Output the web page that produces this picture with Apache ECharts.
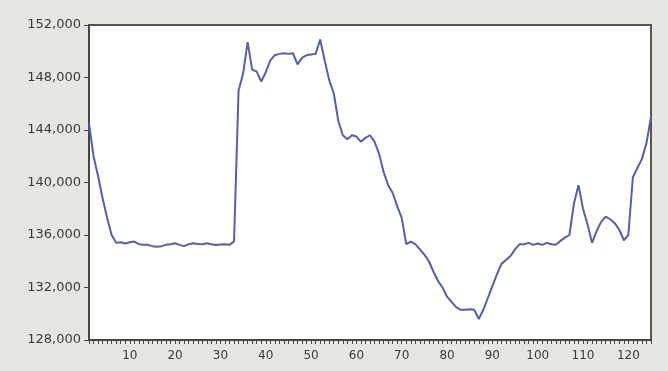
<!DOCTYPE html>
<html>
<head>
<meta charset="utf-8">
<script src="https://cdn.jsdelivr.net/npm/echarts@6/dist/echarts.min.js"></script>
<style>
  html, body { margin: 0; padding: 0; background: #e7e7e2; }
  #chart { width: 668px; height: 371px; }
</style>
</head>
<body>
<div id="chart"></div>
<script>
// observations 1..125
const obs = [];
for (let i = 1; i <= 125; i++) obs.push(i);

// values
const values = [
  144500, 142000, 140500, 138800, 137300, 136000, 135400, 135450, 135350, 135450,
  135500, 135300, 135250, 135250, 135150, 135100, 135150, 135250, 135300, 135370,
  135250, 135150, 135300, 135370, 135320, 135300, 135370, 135300, 135240, 135280,
  135300, 135250, 135500, 147000, 148300, 150700, 148600, 148450, 147700, 148400,
  149300, 149700, 149800, 149850, 149800, 149850, 149000, 149500, 149700, 149750,
  149800, 150900, 149300, 147800, 146800, 144700, 143600, 143300, 143600, 143500,
  143100, 143400, 143600, 143100, 142200, 140800, 139800, 139200, 138200, 137300,
  135300, 135500, 135300, 134900, 134500, 134000, 133200, 132500, 132000, 131300,
  130900, 130500, 130300, 130300, 130350, 130300, 129600, 130300, 131200, 132100,
  133000, 133800, 134100, 134400, 134900, 135300, 135300, 135400, 135250, 135350,
  135250, 135400, 135300, 135250, 135550, 135800, 136000, 138400, 139800, 138000,
  136800, 135400, 136300, 137000, 137400, 137200, 136900, 136400, 135600, 136000,
  140400, 141100, 141800, 143000, 145000
];

const yMin = 128000, yMax = 152000, yStep = 4000;

let chart = echarts.init(document.getElementById('chart'), null, { renderer: 'canvas' });

let option = {
  backgroundColor: '#e7e7e2',
  animation: false,
  grid: {
    left: 89,
    right: 17,
    top: 25,
    bottom: 31,
    show: true,
    backgroundColor: '#ffffff',
    borderColor: '#5a5555',
    borderWidth: 2
  },
  xAxis: {
    type: 'category',
    data: obs,
    boundaryGap: false,
    axisLine: { lineStyle: { color: '#4a4545', width: 2 } },
    axisTick: {
      interval: 0,
      length: 4,
      lineStyle: { color: '#4a4545', width: 1 }
    },
    axisLabel: {
      interval: (idx, val) => Number(val) % 10 === 0,
      color: '#3a3a3a',
      fontFamily: 'DejaVu Sans',
      fontSize: 12,
      margin: 10
    },
    splitLine: { show: false }
  },
  yAxis: {
    type: 'value',
    min: yMin,
    max: yMax,
    interval: yStep,
    axisLine: { show: true, lineStyle: { color: '#4a4545', width: 2 } },
    axisTick: { show: true, length: 5, lineStyle: { color: '#4a4545' } },
    axisLabel: {
      color: '#3a3a3a',
      fontFamily: 'DejaVu Sans',
      fontSize: 13,
      margin: 8,
      formatter: v => v.toLocaleString('en-US')
    },
    splitLine: { show: false }
  },
  series: [{
    type: 'line',
    data: values,
    symbol: 'none',
    lineStyle: { color: '#5a5f9e', width: 2 }
  }]
};

chart.setOption(option);
</script>
</body>
</html>
